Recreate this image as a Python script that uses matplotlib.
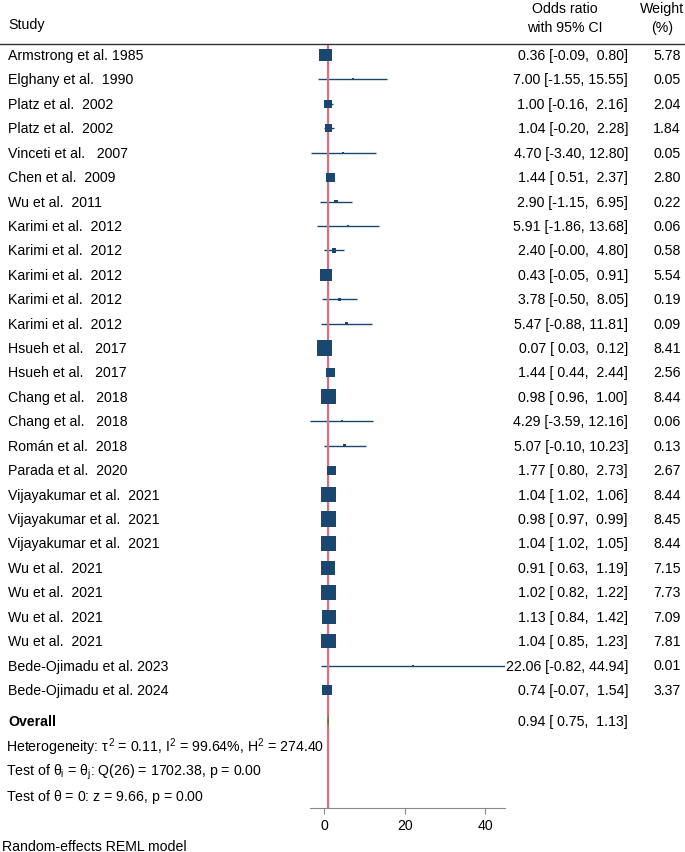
import numpy as np
import matplotlib
matplotlib.use("Agg")
import matplotlib.pyplot as plt
from matplotlib.transforms import blended_transform_factory

plt.rcParams['font.family'] = ['Liberation Sans', 'DejaVu Sans']
plt.rcParams['mathtext.fontset'] = 'custom'
plt.rcParams['mathtext.rm'] = 'Liberation Sans'
plt.rcParams['mathtext.it'] = 'Liberation Sans'

# study data
studies = ["Armstrong et al. 1985", "Elghany et al.  1990", "Platz et al.  2002",
           "Platz et al.  2002", "Vinceti et al.   2007", "Chen et al.  2009",
           "Wu et al.  2011", "Karimi et al.  2012", "Karimi et al.  2012",
           "Karimi et al.  2012", "Karimi et al.  2012", "Karimi et al.  2012",
           "Hsueh et al.   2017", "Hsueh et al.   2017", "Chang et al.   2018",
           "Chang et al.   2018", "Román et al.  2018", "Parada et al.  2020",
           "Vijayakumar et al.  2021", "Vijayakumar et al.  2021",
           "Vijayakumar et al.  2021", "Wu et al.  2021", "Wu et al.  2021",
           "Wu et al.  2021", "Wu et al.  2021", "Bede-Ojimadu et al. 2023",
           "Bede-Ojimadu et al. 2024"]
odds = [0.36, 7.00, 1.00, 1.04, 4.70, 1.44, 2.90, 5.91, 2.40, 0.43, 3.78, 5.47,
        0.07, 1.44, 0.98, 4.29, 5.07, 1.77, 1.04, 0.98, 1.04, 0.91, 1.02, 1.13,
        1.04, 22.06, 0.74]
lower = [-0.09, -1.55, -0.16, -0.20, -3.40, 0.51, -1.15, -1.86, -0.00, -0.05,
         -0.50, -0.88, 0.03, 0.44, 0.96, -3.59, -0.10, 0.80, 1.02, 0.97, 1.02,
         0.63, 0.82, 0.84, 0.85, -0.82, -0.07]
upper = [0.80, 15.55, 2.16, 2.28, 12.80, 2.37, 6.95, 13.68, 4.80, 0.91, 8.05,
         11.81, 0.12, 2.44, 1.00, 12.16, 10.23, 2.73, 1.06, 0.99, 1.05, 1.19,
         1.22, 1.42, 1.23, 44.94, 1.54]
weight = [5.78, 0.05, 2.04, 1.84, 0.05, 2.80, 0.22, 0.06, 0.58, 5.54, 0.19, 0.09,
          8.41, 2.56, 8.44, 0.06, 0.13, 2.67, 8.44, 8.45, 8.44, 7.15, 7.73, 7.09,
          7.81, 0.01, 3.37]
overall = [0.94, 0.75, 1.13]

navy = '#1a476f'
red = '#d9727f'
green = '#55752f'
fs = 10.2

W, H = 685, 853
fig = plt.figure(figsize=(W / 100, H / 100), dpi=100)

row_px = 24.42
y0_px = 56
top_px, bot_px = 45, 809
ax = fig.add_axes([310 / W, 1 - bot_px / H, 195 / W, (bot_px - top_px) / H])
ax.set_xlim(-3.59, 44.94)
ax.set_ylim((bot_px - y0_px) / row_px, (top_px - y0_px) / row_px)

n = len(studies)
rows = np.arange(n)
ax.hlines(rows, lower, upper, color=navy, lw=1.0, zorder=2)
ax.axvline(1, color=red, lw=1.6, zorder=3)
# square area proportional to weight
side_px = 4.9 * np.sqrt(np.array(weight)) + 1.0
side_pt = np.maximum(side_px, 2.0) * 72 / 100
ax.scatter(odds, rows, s=side_pt ** 2, marker='s', color=navy, lw=0, zorder=4)

r_over = (722 - y0_px) / row_px
ax.fill([overall[1], overall[0], overall[2], overall[0]],
        [r_over, r_over - 0.3, r_over, r_over + 0.3], color=green, lw=0, zorder=4)

for s in ['top', 'right', 'left']:
    ax.spines[s].set_visible(False)
ax.spines['bottom'].set_color('#8a8a8a')
ax.set_yticks([])
ax.set_xticks([0, 20, 40])
ax.tick_params(axis='x', colors='#8a8a8a', labelcolor='black', length=4,
               pad=3.5, labelsize=fs)

tr = blended_transform_factory(fig.transFigure, ax.transData)

for i in range(n):
    ax.text(8 / W, i, studies[i], transform=tr, ha='left', va='center', fontsize=fs)
    ax.text(628 / W, i, f"{odds[i]:.2f} [{lower[i]:5.2f}, {upper[i]:5.2f}]",
            transform=tr, ha='right', va='center', fontsize=fs)
    ax.text(681 / W, i, f"{weight[i]:.2f}", transform=tr, ha='right',
            va='center', fontsize=fs)

ax.text(8 / W, r_over, "Overall", transform=tr, ha='left', va='center',
        fontsize=fs, fontweight='bold')
ax.text(628 / W, r_over, f"{overall[0]:.2f} [{overall[1]:5.2f}, {overall[2]:5.2f}]",
        transform=tr, ha='right', va='center', fontsize=fs)

stats = [r"Heterogeneity: $\tau^2$ = 0.11, I$^2$ = 99.64%, H$^2$ = 274.40",
         r"Test of $\theta_\mathrm{i}$ = $\theta_\mathrm{j}$: Q(26) = 1702.38, p = 0.00",
         r"Test of $\theta$ = 0: z = 9.66, p = 0.00"]
for k, px in enumerate([747, 772, 797]):
    fig.text(6 / W, 1 - px / H, stats[k], ha='left', va='center', fontsize=fs)

# header
fig.text(8 / W, 1 - 25 / H, "Study", ha='left', va='center', fontsize=fs)
fig.text(565 / W, 1 - 9 / H, "Odds ratio", ha='center', va='center', fontsize=fs)
fig.text(565 / W, 1 - 28 / H, "with 95% CI", ha='center', va='center', fontsize=fs)
fig.text(662 / W, 1 - 9 / H, "Weight", ha='center', va='center', fontsize=fs)
fig.text(662 / W, 1 - 28 / H, "(%)", ha='center', va='center', fontsize=fs)
fig.add_artist(plt.Line2D([0, 1], [1 - 45 / H, 1 - 45 / H], color='#333333', lw=1.0))

fig.text(2 / W, 1 - 847 / H, "Random-effects REML model", ha='left', va='center',
         fontsize=fs)

fig.savefig("out.png", dpi=100, facecolor='white')
